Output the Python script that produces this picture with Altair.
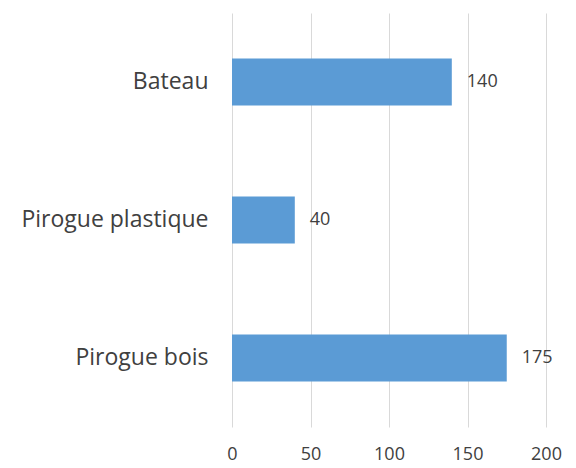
import altair as alt
import pandas as pd

categories = ["Bateau", "Pirogue plastique", "Pirogue bois"]
values = [140, 40, 175]
x_ticks = [0, 50, 100, 150, 200]

df = pd.DataFrame({"cat": categories, "val": values})

FONT = "Open Sans"

y_enc = alt.Y("cat:N", sort=categories, title=None,
              scale=alt.Scale(paddingInner=0.66, paddingOuter=0.33),
              axis=alt.Axis(domain=False, ticks=False, labelPadding=24, labelLimit=400,
                            labelFontSize=23, labelColor="#404040", labelFont=FONT, grid=False))
x_enc = alt.X("val:Q", title=None,
              scale=alt.Scale(domain=[0, 200], nice=False),
              axis=alt.Axis(values=x_ticks, domain=False, ticks=False, grid=True,
                            gridColor="#d9d9d9", gridWidth=1, labelPadding=18, labelFlush=False,
                            labelFontSize=18, labelColor="#404040", labelFont=FONT))

bars = alt.Chart(df).mark_bar(color="#5b9bd5").encode(x=x_enc, y=y_enc)
texts = alt.Chart(df).mark_text(align="left", baseline="middle", dx=15, fontSize=18,
                                color="#404040", font=FONT).encode(
    x=alt.X("val:Q"), y=alt.Y("cat:N", sort=categories), text=alt.Text("val:Q"))

chart = (bars + texts).properties(
    width=314, height=414,
    autosize=alt.AutoSizeParams(type="none"),
    padding={"left": 224, "top": 5, "right": 22, "bottom": 41},
).configure_view(stroke=None)

chart.save("out.html", embed_options={"renderer": "svg", "actions": False})
